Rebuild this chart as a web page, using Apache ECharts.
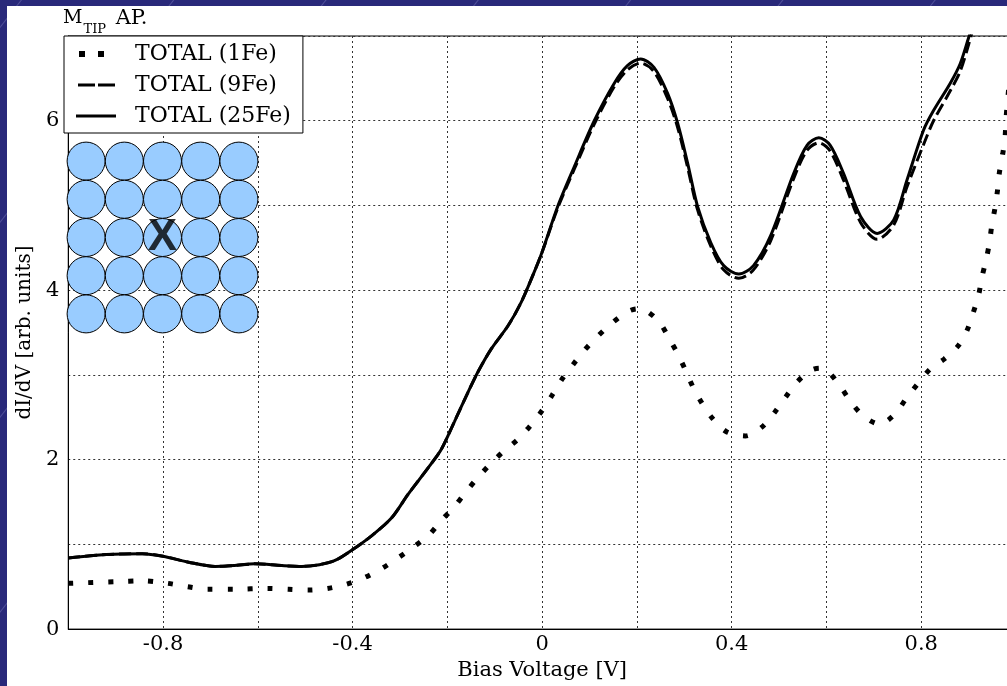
<!DOCTYPE html>
<html>
<head>
<meta charset="utf-8">
<script src="https://cdn.jsdelivr.net/npm/echarts@6/dist/echarts.min.js"></script>
<style>
html,body{margin:0;padding:0;width:1007px;height:686px;overflow:hidden;
  background-color:#29297a;
  background-image:repeating-linear-gradient(-52deg, rgba(255,255,255,0) 0px, rgba(255,255,255,0) 118px, rgba(150,150,210,0.35) 119px, rgba(255,255,255,0) 120px);}
#chart{position:absolute;left:7px;top:6px;width:1030px;height:680px;background:#fff;}
</style>
</head>
<body>
<div id="chart"></div>
<script>
// ---- data ----
const seriesNames = ['TOTAL (1Fe)', 'TOTAL (9Fe)', 'TOTAL (25Fe)'];

const bias1Fe = [-1.0,-0.9,-0.844,-0.79,-0.748,-0.706,-0.65,-0.58,-0.535,-0.493,-0.453,-0.413,-0.374,-0.337,-0.304,-0.271,-0.239,-0.213,-0.186,-0.162,-0.137,-0.109,-0.081,-0.051,-0.025,0.0,0.021,0.042,0.065,0.089,0.116,0.145,0.178,0.2,0.219,0.248,0.268,0.286,0.303,0.319,0.338,0.359,0.389,0.429,0.465,0.491,0.514,0.537,0.566,0.585,0.605,0.631,0.653,0.679,0.712,0.745,0.768,0.792,0.819,0.849,0.879,0.897,0.91,0.921,0.928,0.937,0.944,0.949,0.956,0.961,0.965,0.972,0.977,0.979,0.985];
const didv1Fe = [0.54,0.56,0.57,0.54,0.50,0.47,0.47,0.48,0.47,0.46,0.48,0.53,0.61,0.72,0.84,0.97,1.11,1.28,1.44,1.61,1.78,1.95,2.10,2.24,2.40,2.58,2.76,2.95,3.12,3.29,3.45,3.60,3.74,3.78,3.76,3.62,3.43,3.25,3.05,2.85,2.66,2.49,2.33,2.28,2.39,2.56,2.74,2.91,3.05,3.08,3.03,2.85,2.67,2.51,2.42,2.54,2.72,2.89,3.07,3.19,3.35,3.53,3.74,3.94,4.15,4.36,4.56,4.77,4.98,5.18,5.39,5.61,5.81,6.03,6.40];

const biasMulti = [-1.0,-0.92,-0.844,-0.8,-0.746,-0.69,-0.65,-0.606,-0.55,-0.507,-0.47,-0.437,-0.402,-0.36,-0.318,-0.283,-0.241,-0.213,-0.185,-0.156,-0.135,-0.107,-0.072,-0.044,-0.017,0.0,0.033,0.068,0.11,0.152,0.18,0.208,0.236,0.265,0.286,0.307,0.328,0.356,0.383,0.415,0.446,0.482,0.531,0.559,0.584,0.608,0.636,0.672,0.707,0.742,0.77,0.805,0.826,0.861,0.882,0.9,0.93];
const didv9Fe = [0.84,0.88,0.89,0.86,0.79,0.74,0.75,0.77,0.75,0.74,0.76,0.81,0.93,1.10,1.31,1.59,1.90,2.12,2.45,2.80,3.04,3.31,3.58,3.86,4.21,4.45,4.97,5.43,5.96,6.40,6.60,6.68,6.58,6.26,5.92,5.45,4.95,4.52,4.24,4.14,4.24,4.58,5.32,5.65,5.74,5.64,5.30,4.80,4.60,4.77,5.22,5.72,6.00,6.35,6.58,6.90,7.50];
const didv25Fe = [0.84,0.88,0.89,0.86,0.79,0.74,0.75,0.77,0.75,0.74,0.76,0.81,0.93,1.10,1.31,1.59,1.90,2.12,2.45,2.80,3.04,3.31,3.58,3.86,4.21,4.45,4.99,5.46,6.00,6.44,6.65,6.73,6.63,6.32,5.97,5.50,4.99,4.56,4.29,4.19,4.29,4.64,5.38,5.71,5.80,5.71,5.38,4.87,4.67,4.83,5.30,5.89,6.12,6.44,6.67,6.98,7.50];

// inset lattice (5x5 Fe atoms), tip position marked with X
const latticeCols = [0,1,2,3,4];
const latticeRows = [0,1,2,3,4];
const tipSite = [2,2];

const titleText = 'M';
const titleSub = 'TIP';
const titleRest = ' AP.';
const xName = 'Bias Voltage [V]';
const yName = 'dI/dV [arb. units]';

// ---- chart ----
const zip = (xs, ys) => xs.map((x, i) => [x, ys[i]]);
const lattice = [];
latticeRows.forEach(r => latticeCols.forEach(c => lattice.push([c, r])));
const serif = 'DejaVu Serif';

const styles = [
  {color: '#000', width: 5, type: [5, 15], cap: 'butt'},
  {color: '#000', width: 3, type: [12, 5]},
  {color: '#000', width: 3, type: 'solid'}
];
const legendStyles = [
  {color: '#000', width: 6, type: [6, 13], dashOffset: -3, cap: 'butt'},
  {color: '#000', width: 3, type: [17, 3], dashOffset: -2},
  {color: '#000', width: 3, type: 'solid'}
];

const chart = echarts.init(document.getElementById('chart'));
chart.setOption({
  animation: false,
  backgroundColor: '#fff',
  title: {
    left: 56, top: 3, padding: 0,
    text: '{m|' + titleText + '}{s|' + titleSub + '}{a|' + titleRest + '}',
    textStyle: {
      rich: {
        m: {fontFamily: serif, fontSize: 19, fontWeight: 'normal', color: '#000', lineHeight: 27, verticalAlign: 'top'},
        a: {fontFamily: serif, fontSize: 21, fontWeight: 'normal', color: '#000', lineHeight: 27, verticalAlign: 'top', padding: [-1, 0, 0, 0]},
        s: {fontFamily: serif, fontSize: 13, fontWeight: 'normal', color: '#000', lineHeight: 27, verticalAlign: 'bottom', padding: [0, 3, 0, 1]}
      }
    }
  },
  legend: {
    orient: 'vertical', left: 57, top: 30,
    padding: [7, 12, 6, 9], itemGap: 9, itemWidth: 40, itemHeight: 22,
    backgroundColor: '#fff', borderColor: '#000', borderWidth: 1, borderRadius: 0,
    itemStyle: {opacity: 0},
    textStyle: {fontFamily: serif, fontSize: 22, color: '#000', padding: [0, 0, 0, 14], lineHeight: 22},
    data: seriesNames.map((n, i) => ({name: n, lineStyle: legendStyles[i]})),
    z: 10
  },
  grid: [
    {left: 58, top: 30, width: 951, height: 596, show: true, borderColor: '#000', borderWidth: 1, backgroundColor: 'transparent'},
    {left: 60, top: 136, width: 191, height: 191, show: false}
  ],
  xAxis: [{
    type: 'value', min: -1, max: 1, interval: 0.2,
    name: xName, nameLocation: 'middle', nameGap: 29,
    nameTextStyle: {fontFamily: serif, fontSize: 21, color: '#000'},
    axisLine: {show: true, onZero: false, lineStyle: {color: '#000', width: 1}},
    axisTick: {show: false},
    axisLabel: {fontFamily: serif, fontSize: 21, color: '#000', margin: 5,
      formatter: v => (Math.round(v * 5) % 2 === 0) ? String(Math.round(v * 10) / 10) : ''},
    splitLine: {show: true, lineStyle: {color: '#333', width: 1, type: [2, 3]}}
  }, {
    gridIndex: 1, type: 'value', min: -0.5, max: 4.5, show: false
  }],
  yAxis: [{
    type: 'value', min: 0, max: 7, interval: 1,
    name: yName, nameLocation: 'middle', nameGap: 31,
    nameTextStyle: {fontFamily: serif, fontSize: 20, color: '#000'},
    axisLine: {show: true, onZero: false, lineStyle: {color: '#000', width: 1}},
    axisTick: {show: false},
    axisLabel: {fontFamily: serif, fontSize: 21, color: '#000', margin: 9,
      formatter: v => (v % 2 === 0) ? String(v) : ''},
    splitLine: {show: true, lineStyle: {color: '#333', width: 1, type: [2, 3]}}
  }, {
    gridIndex: 1, type: 'value', min: -0.5, max: 4.5, inverse: true, show: false
  }],
  series: [
    {
      name: seriesNames[0], type: 'line', data: zip(bias1Fe, didv1Fe),
      showSymbol: false, symbol: 'none', smooth: 0.3, clip: true,
      lineStyle: styles[0], itemStyle: {color: '#000'}
    },
    {
      name: seriesNames[1], type: 'line', data: zip(biasMulti, didv9Fe),
      showSymbol: false, symbol: 'none', smooth: 0.3, clip: true,
      lineStyle: styles[1], itemStyle: {color: '#000'}
    },
    {
      name: seriesNames[2], type: 'line', data: zip(biasMulti, didv25Fe),
      showSymbol: false, symbol: 'none', smooth: 0.3, clip: true,
      lineStyle: styles[2], itemStyle: {color: '#000'}
    },
    {
      type: 'scatter', xAxisIndex: 1, yAxisIndex: 1, data: lattice,
      symbol: 'circle', symbolSize: 38, silent: true,
      itemStyle: {color: '#99ccff', borderColor: '#000', borderWidth: 1, opacity: 1}
    },
    {
      type: 'scatter', xAxisIndex: 1, yAxisIndex: 1, data: [tipSite],
      symbolSize: 1, silent: true, z: 5,
      itemStyle: {color: 'rgba(0,0,0,0)'},
      label: {show: true, position: 'inside', formatter: 'X', color: '#000',
        fontFamily: 'Liberation Sans', fontSize: 44, fontWeight: 'bold'}
    }
  ]
});
</script>
</body>
</html>
